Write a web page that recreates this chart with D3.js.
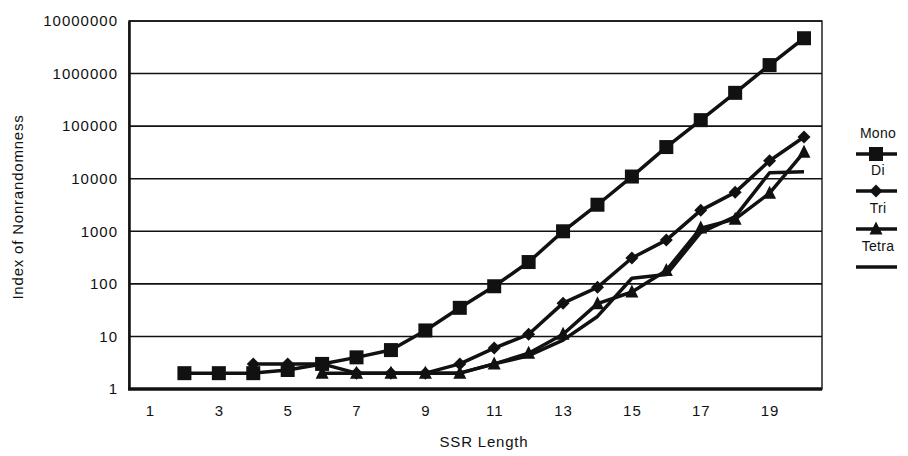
<!DOCTYPE html>
<html>
<head>
<meta charset="utf-8">
<script src="https://cdn.jsdelivr.net/npm/d3@7"></script>
<style>
  body { margin: 0; background: #fff; }
  text { font-family: "Liberation Sans", Arial, sans-serif; fill: #111; }
</style>
</head>
<body>
<div id="chart"></div>
<script>
// SSR length categories
var lengths = [1, 2, 3, 4, 5, 6, 7, 8, 9, 10, 11, 12, 13, 14, 15, 16, 17, 18, 19, 20];
var xTickLabels = [1, 3, 5, 7, 9, 11, 13, 15, 17, 19];
var yTickValues = [1, 10, 100, 1000, 10000, 100000, 1000000, 10000000];

// index of nonrandomness per series (null = no point)
var mono  = [null, 2, 2, 2, 2.3, 3, 4, 5.5, 13, 35, 90, 260, 1000, 3200, 11000, 40000, 130000, 430000, 1450000, 4700000];
var di    = [null, null, null, 3, 3, 3, 2, 2, 2, 3, 6, 11, 43, 86, 310, 680, 2500, 5500, 22000, 62000];
var tri   = [null, null, null, null, null, 2, 2, 2, 2, 2, 3, 4.8, 11, 42, 70, 180, 1150, 1700, 5300, 32000];
var tetra = [null, null, null, null, null, null, null, 2, 2, 2, 3, 4.3, 8.5, 24, 128, 150, 950, 1900, 13000, 13500];

var seriesNames = ["Mono", "Di", "Tri", "Tetra"];
var seriesValues = [mono, di, tri, tetra];
var seriesMarkers = ["square", "diamond", "triangle", "none"];

var svgWidth = 908;
var svgHeight = 456;

var plot = { left: 129, right: 822, top: 21, bottom: 389 };

var svg = d3.select("#chart")
  .append("svg")
  .attr("width", svgWidth)
  .attr("height", svgHeight);

// scales
var x = d3.scalePoint()
  .domain(lengths)
  .range([150, 804]);

var y = d3.scaleLog()
  .domain([1, 10000000])
  .range([plot.bottom, plot.top]);

// frame
svg.append("rect")
  .attr("x", plot.left)
  .attr("y", plot.top)
  .attr("width", plot.right - plot.left)
  .attr("height", plot.bottom - plot.top)
  .attr("fill", "none")
  .attr("stroke", "#222")
  .attr("stroke-width", 1.5);

// gridlines
svg.append("g")
  .selectAll("line")
  .data(yTickValues)
  .enter()
  .append("line")
  .attr("x1", plot.left)
  .attr("x2", plot.right)
  .attr("y1", d => y(d))
  .attr("y2", d => y(d))
  .attr("stroke", "#111")
  .attr("stroke-width", 1.6);

// y axis
var leftAxis = d3.axisLeft(y)
  .tickValues(yTickValues)
  .tickFormat(d3.format("d"))
  .tickSize(0)
  .tickPadding(11);

var yAxisG = svg.append("g")
  .attr("transform", `translate(${plot.left}, 0)`)
  .call(leftAxis);
yAxisG.select(".domain").attr("stroke", "#111").attr("stroke-width", 2.5);
yAxisG.selectAll("text")
  .attr("font-size", 15)
  .attr("letter-spacing", 1)
  .attr("fill", "#111");

// x axis
var bottomAxis = d3.axisBottom(x)
  .tickValues(xTickLabels)
  .tickSize(0)
  .tickPadding(16);

var xAxisG = svg.append("g")
  .attr("transform", `translate(0, ${plot.bottom})`)
  .call(bottomAxis);
xAxisG.select(".domain").remove();
xAxisG.selectAll("text")
  .attr("font-size", 15)
  .attr("letter-spacing", 1)
  .attr("fill", "#111");

svg.append("line")
  .attr("x1", plot.left - 1)
  .attr("x2", plot.right)
  .attr("y1", plot.bottom)
  .attr("y2", plot.bottom)
  .attr("stroke", "#111")
  .attr("stroke-width", 3.5);

// axis titles
svg.append("text")
  .attr("transform", `translate(23, ${(plot.top + plot.bottom) / 2 + 2}) rotate(-90)`)
  .attr("text-anchor", "middle")
  .attr("font-size", 15)
  .attr("letter-spacing", 0.8)
  .text("Index of Nonrandomness");

svg.append("text")
  .attr("x", 484)
  .attr("y", 447)
  .attr("text-anchor", "middle")
  .attr("font-size", 15)
  .attr("letter-spacing", 0.8)
  .text("SSR Length");

// marker drawing
function drawMarker(g, type) {
  if (type === "square") {
    g.append("rect").attr("x", -7).attr("y", -7).attr("width", 14).attr("height", 14).attr("fill", "#111");
  } else if (type === "diamond") {
    g.append("path").attr("d", "M0,-6.5L6.5,0L0,6.5L-6.5,0Z").attr("fill", "#111");
  } else if (type === "triangle") {
    g.append("path").attr("d", "M0,-7.5L6.5,5.5L-6.5,5.5Z").attr("fill", "#111");
  }
}

var line = d3.line()
  .defined(d => d.v != null)
  .x(d => x(d.len))
  .y(d => y(d.v));

// series, drawn back to front
for (var s = seriesValues.length - 1; s >= 0; s--) {
  var pts = lengths.map((len, i) => ({ len: len, v: seriesValues[s][i] }));
  svg.append("path")
    .datum(pts)
    .attr("fill", "none")
    .attr("stroke", "#111")
    .attr("stroke-width", 3.5)
    .attr("stroke-linejoin", "round")
    .attr("d", line);

  if (seriesMarkers[s] !== "none") {
    var mk = seriesMarkers[s];
    svg.append("g")
      .selectAll("g")
      .data(pts.filter(d => d.v != null))
      .enter()
      .append("g")
      .attr("transform", d => `translate(${x(d.len)}, ${y(d.v)})`)
      .each(function() { drawMarker(d3.select(this), mk); });
  }
}

// legend
var legendTextY = [138, 175, 213, 251];
var legend = svg.append("g");
seriesNames.forEach(function(name, i) {
  legend.append("text")
    .attr("x", 878)
    .attr("y", legendTextY[i])
    .attr("text-anchor", "middle")
    .attr("font-size", 14)
    .attr("letter-spacing", 0.3)
    .text(name);
  var ly = legendTextY[i] + 16;
  legend.append("line")
    .attr("x1", 856)
    .attr("x2", 897)
    .attr("y1", ly)
    .attr("y2", ly)
    .attr("stroke", "#111")
    .attr("stroke-width", 3.5);
  var g = legend.append("g").attr("transform", `translate(876, ${ly})`);
  drawMarker(g, seriesMarkers[i]);
});
</script>
</body>
</html>
